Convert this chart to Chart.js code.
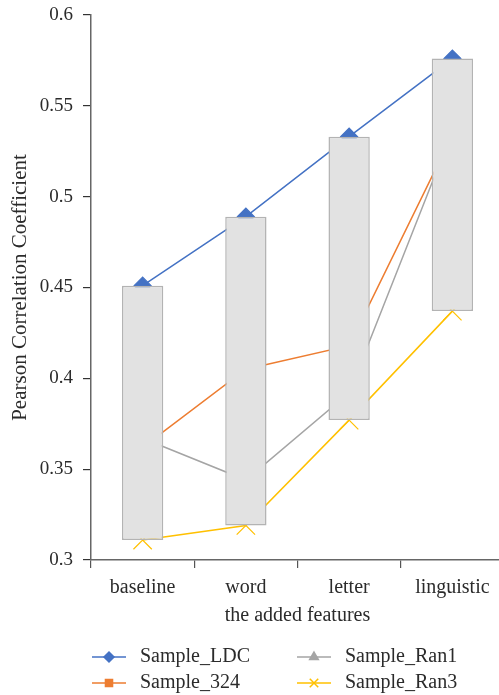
<!DOCTYPE html>
<html>
<head>
<meta charset="utf-8">
<script src="https://cdn.jsdelivr.net/npm/chart.js@4"></script>
<style>
  html, body { margin: 0; padding: 0; background: #fff; overflow: hidden; }
  #wrap { width: 505px; height: 695px; }
</style>
</head>
<body>
<div id="wrap"><canvas id="chart" width="505" height="695"></canvas></div>
<script>
const categories = ['baseline', 'word', 'letter', 'linguistic'];
const sampleLDC = [0.451, 0.489, 0.533, 0.576];
const sample324 = [0.362, 0.405, 0.418, 0.534];
const sampleRan1 = [0.367, 0.344, 0.392, 0.536];
const sampleRan3 = [0.311, 0.319, 0.377, 0.437];
const yMin = 0.3;
const yMax = 0.6;
const yStep = 0.05;

const FONT = "'Liberation Serif', 'DejaVu Serif', serif";
const TEXT = '#2b2b2b';

// range boxes go from the lowest series up to the LDC series
const boxRanges = categories.map((c, i) => [sampleRan3[i], sampleLDC[i]]);

function lineSet(label, data, color, style, radius) {
	return {
		type: 'line',
		label: label,
		data: data,
		borderColor: color,
		backgroundColor: color,
		borderWidth: 1.5,
		pointStyle: style,
		pointRadius: radius,
		pointBorderWidth: 1.2,
		pointHoverRadius: radius,
		tension: 0,
		order: 2,
	};
}

const legendPlugin = {
	id: 'sampleLegend',
	afterDraw(chart) {
		const ctx = chart.ctx;
		const sets = chart.data.datasets.filter(d => d.type === 'line');
		ctx.save();
		sets.forEach((ds, i) => {
			const col = Math.floor(i / 2);
			const row = i % 2;
			const x = 92 + col * 205;
			const y = 657 + row * 26;
			ctx.strokeStyle = ds.borderColor;
			ctx.lineWidth = 1.5;
			ctx.beginPath();
			ctx.moveTo(x, y);
			ctx.lineTo(x + 34, y);
			ctx.stroke();
			ctx.fillStyle = ds.borderColor;
			ctx.strokeStyle = ds.borderColor;
			Chart.helpers.drawPoint(ctx, {
				pointStyle: ds.pointStyle,
				radius: ds.pointStyle === 'crossRot' ? 6 : 5,
				rotation: 0,
				borderWidth: 1.2,
			}, x + 17, y);
			ctx.fillStyle = TEXT;
			ctx.font = '20px ' + FONT;
			ctx.textAlign = 'left';
			ctx.textBaseline = 'middle';
			ctx.fillText(ds.label, x + 48, y);
		});
		ctx.restore();
	},
};

const ctx = document.getElementById('chart').getContext('2d');
const chart = new Chart(ctx, {
	type: 'bar',
	data: {
		labels: categories,
		datasets: [
			{
				type: 'bar',
				label: 'range',
				data: boxRanges,
				backgroundColor: '#e2e2e2',
				borderColor: '#b3b3b3',
				borderWidth: 1.5,
				borderSkipped: false,
				barPercentage: 0.4,
				categoryPercentage: 1,
				order: 1,
			},
			lineSet('Sample_LDC', sampleLDC, '#4472c4', 'rectRot', 8.5),
			lineSet('Sample_324', sample324, '#ed7d31', 'rect', 6),
			lineSet('Sample_Ran1', sampleRan1, '#a5a5a5', 'triangle', 6),
			lineSet('Sample_Ran3', sampleRan3, '#ffc000', 'crossRot', 13),
		],
	},
	options: {
		responsive: false,
		animation: false,
		layout: {
			autoPadding: false,
			padding: { top: 15, right: 1, bottom: 65, left: 0 },
		},
		scales: {
			x: {
				offset: true,
				grid: {
					offset: true,
					drawOnChartArea: false,
					drawTicks: true,
					tickLength: 8,
					color: '#555',
					lineWidth: 1.2,
				},
				border: { color: '#666', width: 1.5 },
				ticks: {
					padding: 8,
					color: TEXT,
					font: { family: FONT, size: 20 },
					maxRotation: 0,
				},
				title: {
					display: true,
					text: 'the added features',
					color: TEXT,
					font: { family: FONT, size: 20 },
					padding: { top: 4, bottom: 2 },
				},
				afterFit(scale) {
					scale.height = 70;
					scale.paddingLeft = 0;
					scale.paddingRight = 0;
				},
			},
			y: {
				min: yMin,
				max: yMax,
				grid: {
					drawOnChartArea: false,
					drawTicks: true,
					tickLength: 8,
					color: '#333',
					lineWidth: 1.2,
				},
				border: { color: '#666', width: 1.5 },
				ticks: {
					stepSize: yStep,
					padding: 10,
					color: TEXT,
					font: { family: FONT, size: 19 },
					callback: v => String(parseFloat(Number(v).toFixed(2))),
				},
				title: {
					display: true,
					text: 'Pearson Correlation Coefficient',
					color: TEXT,
					font: { family: FONT, size: 21 },
					padding: { top: 8, bottom: 0 },
				},
				afterFit(scale) {
					scale.width = 91;
					scale.paddingTop = 0;
					scale.paddingBottom = 0;
				},
			},
		},
		plugins: {
			legend: { display: false },
			tooltip: { enabled: false },
		},
	},
	plugins: [legendPlugin],
});
</script>
</body>
</html>
